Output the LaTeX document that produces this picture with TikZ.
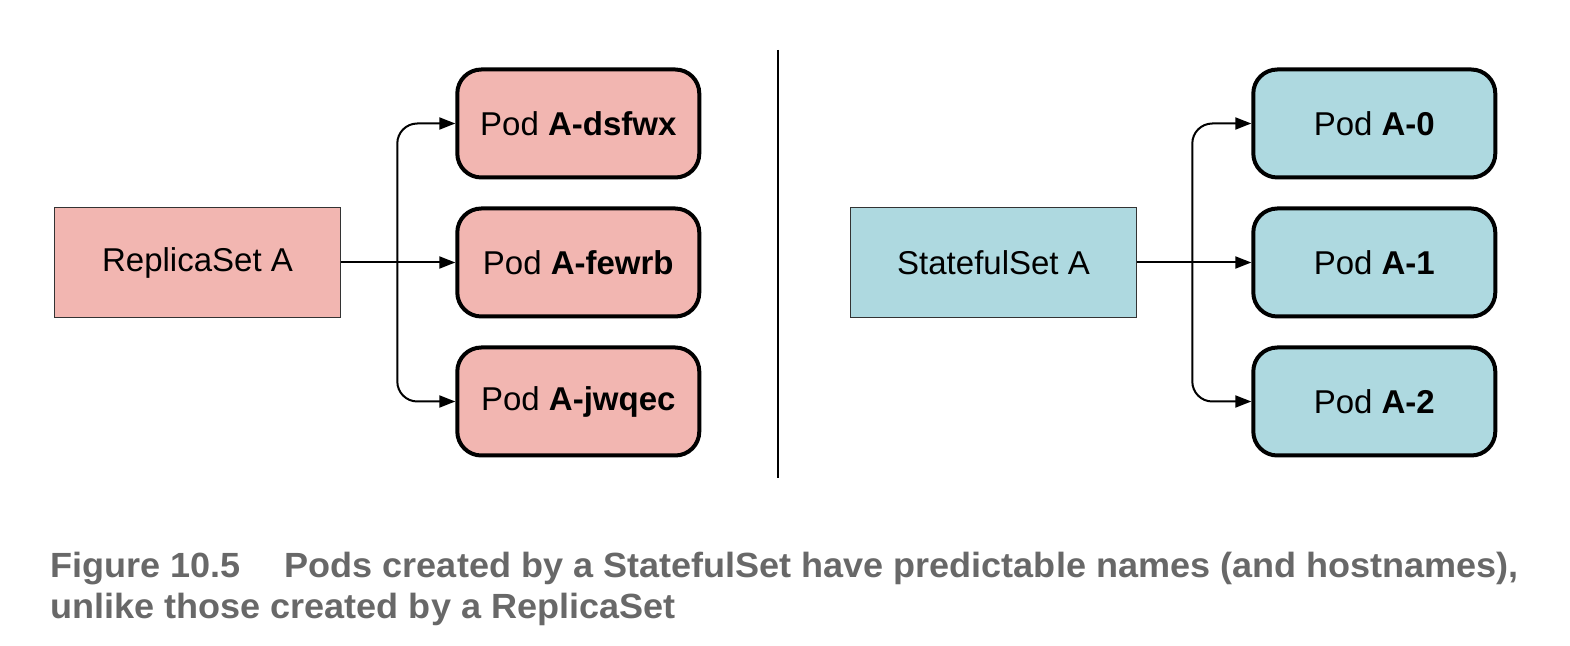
\documentclass[tikz,border=0pt]{standalone}
\usepackage{fontspec}
\setmainfont{Liberation Sans}
\newfontfamily\capfont[FakeStretch=1.03]{Liberation Sans}
\usetikzlibrary{arrows.meta,positioning,shadows}
\definecolor{rspink}{RGB}{242,182,177}
\definecolor{ssblue}{RGB}{174,217,224}
\definecolor{capgray}{RGB}{104,104,104}
\tikzset{
  setbox/.style={draw=black!80, line width=0.8pt, minimum width=143pt, minimum height=55pt,
    font=\fontsize{16.5}{20}\selectfont},
  podbox/.style={draw, line width=2pt, rounded corners=12pt, minimum width=121pt, minimum height=54pt,
    drop shadow={opacity=0.12, shadow xshift=0.8pt, shadow yshift=-0.8pt},
    font=\fontsize{16.5}{20}\selectfont},
  link/.style={line width=1pt, -{Triangle[length=8pt,width=6pt]}, rounded corners=10pt},
}

\begin{document}
\begin{tikzpicture}[x=0.5pt,y=-0.5pt]
    \useasboundingbox (0,0) rectangle (1570,646);

    % ReplicaSet side
    \node[setbox, fill=rspink] (rs) at (197.5,262.5) {ReplicaSet A};
    \node[podbox, fill=rspink, right=57pt of rs] (rsp2) {Pod \textbf{A-fewrb}};
    \node[podbox, fill=rspink, above=13.5pt of rsp2] (rsp1) {Pod \textbf{A-dsfwx}};
    \node[podbox, fill=rspink, below=13.5pt of rsp2] (rsp3) {Pod \textbf{A-jwqec}};
    \coordinate (rsfork) at ([xshift=28pt]rs.east);
    \draw[link] (rs.east) -- (rsp2.west);
    \draw[link] (rsfork) |- (rsp1.west);
    \draw[link] (rsfork) |- (rsp3.west);

    \draw[line width=1pt] (778,50) -- (778,478);

    % StatefulSet side
    \node[setbox, fill=ssblue] (ss) at (993.5,262.5) {StatefulSet A};
    \node[podbox, fill=ssblue, right=57pt of ss] (ssp2) {Pod \textbf{A-1}};
    \node[podbox, fill=ssblue, above=13.5pt of ssp2] (ssp1) {Pod \textbf{A-0}};
    \node[podbox, fill=ssblue, below=13.5pt of ssp2] (ssp3) {Pod \textbf{A-2}};
    \coordinate (ssfork) at ([xshift=27.5pt]ss.east);
    \draw[link] (ss.east) -- (ssp2.west);
    \draw[link] (ssfork) |- (ssp1.west);
    \draw[link] (ssfork) |- (ssp3.west);

    \node[anchor=north west, inner sep=0, align=left, text=capgray,
      font=\capfont\bfseries\fontsize{17.5}{20.5}\selectfont] (cap) at (50,552)
      {Figure 10.5\hspace{22pt}Pods created by a StatefulSet have predictable names (and hostnames),\\
       unlike those created by a ReplicaSet};
\end{tikzpicture}
\end{document}
